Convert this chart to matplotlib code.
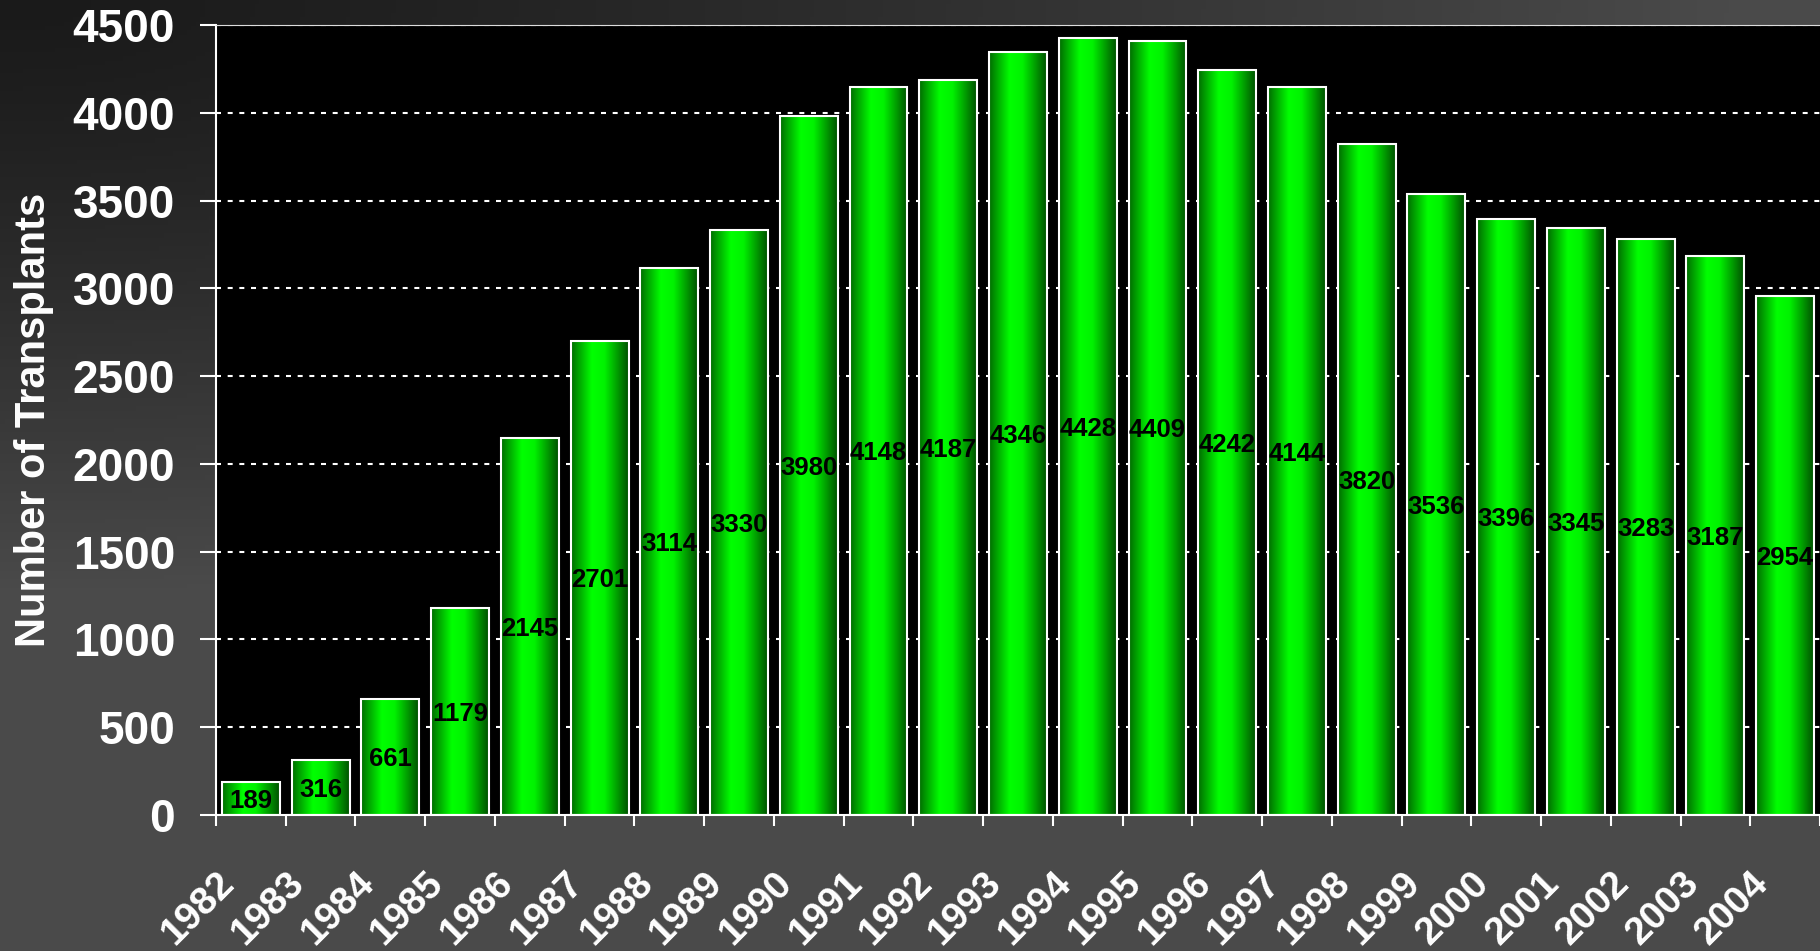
import numpy as np
import matplotlib
matplotlib.use("Agg")
import matplotlib.pyplot as plt
from matplotlib.colors import LinearSegmentedColormap
from matplotlib.transforms import ScaledTranslation

years = ["1982", "1983", "1984", "1985", "1986", "1987", "1988", "1989", "1990",
         "1991", "1992", "1993", "1994", "1995", "1996", "1997", "1998", "1999",
         "2000", "2001", "2002", "2003", "2004"]
transplants = [189, 316, 661, 1179, 2145, 2701, 3114, 3330, 3980, 4148, 4187, 4346,
               4428, 4409, 4242, 4144, 3820, 3536, 3396, 3345, 3283, 3187, 2954]
y_ticks = [0, 500, 1000, 1500, 2000, 2500, 3000, 3500, 4000, 4500]
y_label = "Number of Transplants"

FONT = ["Liberation Sans", "DejaVu Sans"]
plt.rcParams["font.family"] = FONT
plt.rcParams["font.weight"] = "bold"

W, H, DPI = 1820, 951, 100
fig = plt.figure(figsize=(W / DPI, H / DPI), dpi=DPI)

# background gradient (dark top-left -> grey)
bg = fig.add_axes([0, 0, 1, 1], zorder=-10)
gx, gy = np.meshgrid(np.linspace(0, 1, 400), np.linspace(0, 1, 220))
d = np.sqrt((gx / 0.95) ** 2 + (gy / 0.62) ** 2)
t = np.clip(d, 0, 1) ** 1.3
grey = (0x1a + (0x4a - 0x1a) * t) / 255.0
bg.imshow(np.dstack([grey, grey, grey]), extent=(0, 1, 0, 1), aspect="auto",
          origin="upper")
bg.set_axis_off()

ax = fig.add_axes([216 / W, 1 - 815 / H, 1604 / W, (815 - 25) / H])
ax.set_facecolor("black")
ax.patch.set_zorder(0)

x = np.arange(len(years))
bar_w = 0.83
bars = ax.bar(x, transplants, width=bar_w, color="none", edgecolor="white",
              linewidth=1.5, zorder=3)

cmap = LinearSegmentedColormap.from_list(
    "cyl", [(0.0, "#006c00"), (0.36, "#00ff00"), (0.58, "#00f200"), (1.0, "#005000")])
grad = np.linspace(0, 1, 256).reshape(1, -1)
for b in bars:
    x0, w, h = b.get_x(), b.get_width(), b.get_height()
    im = ax.imshow(grad, cmap=cmap, extent=(x0, x0 + w, 0, h), aspect="auto",
                   zorder=2, interpolation="bilinear")
    im.set_clip_path(b)

for xi, v in zip(x, transplants):
    ax.text(xi, v / 2, str(v), ha="center", va="center_baseline", color="black",
            fontsize=18.5, fontweight="bold", zorder=5)

ax.set_xlim(-0.5, len(years) - 0.5)
ax.set_ylim(0, 4500)
ax.set_aspect("auto")

# grid
ax.set_axisbelow(True)
ax.yaxis.grid(True, color="white", linewidth=1.5, linestyle=(0, (2.4, 3.2)), zorder=1)
ax.xaxis.grid(False)

# spines
for s in ["left", "bottom"]:
    ax.spines[s].set_color("white")
    ax.spines[s].set_linewidth(1.5)
ax.spines["top"].set_color("#dddddd")
ax.spines["top"].set_linewidth(0.8)
ax.spines["right"].set_visible(False)

# y ticks
ax.set_yticks(y_ticks)
ax.set_yticklabels([str(v) for v in y_ticks])
ax.tick_params(axis="y", direction="out", length=11.5, width=1.5, color="white",
               labelcolor="white", labelsize=33, pad=18)
for lbl in ax.get_yticklabels():
    lbl.set_fontweight("bold")

# x ticks: labels at centres, tick marks at boundaries
ax.set_xticks(x)
ax.set_xticklabels(years, rotation=45, rotation_mode="anchor", ha="right",
                   va="baseline")
ax.set_xticks(np.arange(-0.5, len(years)), minor=True)
ax.tick_params(axis="x", which="major", length=0, labelcolor="white",
               labelsize=28, pad=50)
ax.tick_params(axis="x", which="minor", direction="out", length=8, width=1.5,
               color="white")
offset = ScaledTranslation(-15 / DPI, 0, fig.dpi_scale_trans)
for lbl in ax.get_xticklabels():
    lbl.set_fontweight("bold")
    lbl.set_transform(lbl.get_transform() + offset)

fig.text(34 / W, 1 - 420 / H, y_label, rotation=90, ha="center", va="center",
         color="white", fontsize=30, fontweight="bold")

fig.savefig("out.png", dpi=DPI)
